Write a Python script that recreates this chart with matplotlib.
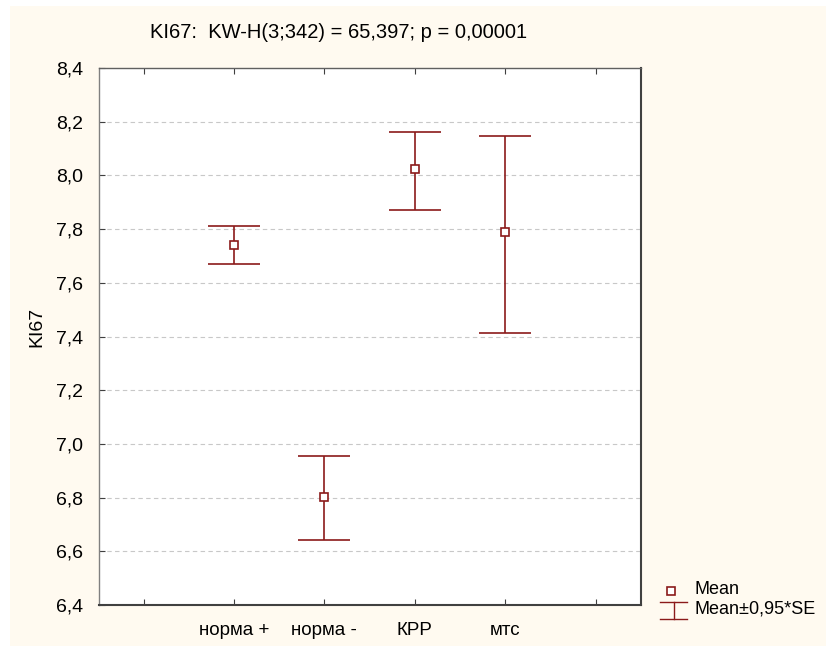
import matplotlib
matplotlib.use("Agg")
import matplotlib.pyplot as plt
from matplotlib.patches import Rectangle
from matplotlib.lines import Line2D

plt.rcParams['font.family'] = ['Liberation Sans', 'DejaVu Sans']

categories = ['норма +', 'норма -', 'КРР', 'мтс']
means = [7.741, 6.802, 8.022, 7.788]
upper = [7.812, 6.956, 8.162, 8.147]
lower = [7.670, 6.642, 7.871, 7.412]
yticks = [6.4, 6.6, 6.8, 7.0, 7.2, 7.4, 7.6, 7.8, 8.0, 8.2, 8.4]
title = 'KI67:  KW-H(3;342) = 65,397; p = 0,00001'
ylabel = 'KI67'
legend_labels = ['Mean', 'Mean±0,95*SE']

W, H = 826, 646
fig = plt.figure(figsize=(W / 100, H / 100), dpi=100)
fig.patch.set_facecolor('white')
fig.patches.append(Rectangle((10 / W, 0 / H), (W - 10) / W, (H - 6) / H,
                             transform=fig.transFigure, facecolor='#fffaf0',
                             edgecolor='none', zorder=-10))


def fx(px):
    return px / W


def fy(py):
    return 1 - py / H


left, right, top, bottom = 98.5, 640.7, 68, 605
ax = fig.add_axes([fx(left), fy(bottom), (right - left) / W, (bottom - top) / H])
ax.set_facecolor('white')

col = '#8b1a1a'
xs = list(range(len(categories)))
yerr = [[m - l for m, l in zip(means, lower)], [u - m for m, u in zip(means, upper)]]
ax.errorbar(xs, means, yerr=yerr, fmt='none', ecolor=col, elinewidth=1.2,
            capsize=18.4, capthick=1.2, zorder=3)
ax.plot(xs, means, linestyle='none', marker='s', markersize=6,
        markerfacecolor='white', markeredgecolor=col, markeredgewidth=1.2, zorder=4)

ax.set_xlim(-1.5, 4.5)
ax.set_ylim(6.4, 8.4)
ax.set_xticks([-1, 0, 1, 2, 3, 4])
ax.set_xticklabels([''] + categories + [''])
ax.set_yticks(yticks)
ax.set_yticklabels([f'{v:.1f}'.replace('.', ',') for v in yticks])
ax.tick_params(axis='both', direction='in', length=4, width=0.8, color='#404040',
               top=True)
ax.tick_params(axis='y', labelsize=14, pad=11)
ax.tick_params(axis='x', labelsize=13.5, pad=12)
for v in yticks[1:-1]:
    ax.axhline(v, color='#c8c8c8', linestyle=(0, (4, 3)), linewidth=0.8, zorder=1)

ax.spines['left'].set_color('#808080')
ax.spines['top'].set_color('#606060')
ax.spines['right'].set_color('#404040')
ax.spines['bottom'].set_color('#404040')
ax.spines['right'].set_linewidth(1.5)
ax.spines['bottom'].set_linewidth(1.5)
ax.spines['left'].set_linewidth(1.0)
ax.spines['top'].set_linewidth(1.0)

ax.set_ylabel(ylabel, fontsize=14)
ax.yaxis.set_label_coords((45 - left) / (right - left), (bottom - 327) / (bottom - top))
fig.text(fx(339), fy(32), title, ha='center', va='center', fontsize=14.5)

# legend (drawn manually to match the reference symbols)
fig.add_artist(Line2D([fx(671)], [fy(590.5)], linestyle='none', marker='s',
                      markersize=5.5, markerfacecolor='white', markeredgecolor=col,
                      markeredgewidth=1.2))
fig.add_artist(Line2D([fx(660), fx(687)], [fy(602), fy(602)], color=col, lw=1.0))
fig.add_artist(Line2D([fx(660), fx(687)], [fy(619), fy(619)], color=col, lw=1.0))
fig.add_artist(Line2D([fx(673.5), fx(673.5)], [fy(602), fy(619)], color=col, lw=1.0))
fig.text(fx(695), fy(589), legend_labels[0], ha='left', va='center', fontsize=13)
fig.text(fx(695), fy(609), legend_labels[1], ha='left', va='center', fontsize=13)

fig.savefig('out.png', dpi=100, facecolor=fig.get_facecolor())
